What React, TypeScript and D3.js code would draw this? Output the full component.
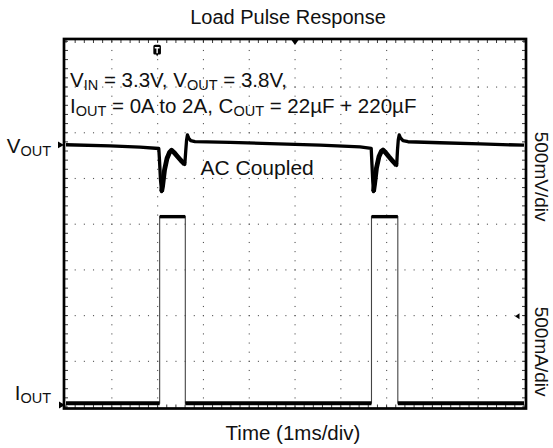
import * as d3 from 'd3'

// VOUT (AC coupled) trace: time in ms, deviation in mV
const vTime = [0, 0.961, 1.616, 2.026, 2.041, 2.063, 2.087, 2.109, 2.151, 2.205, 2.26, 2.306, 2.358, 2.434, 2.511, 2.594, 2.616, 2.633, 2.651, 2.677, 2.721, 2.817, 3.581, 4.454, 5.546, 6.419, 6.664, 6.681, 6.699, 6.714, 6.738, 6.779, 6.834, 6.884, 6.921, 6.976, 7.052, 7.14, 7.22, 7.238, 7.255, 7.275, 7.303, 7.358, 7.467, 8.166, 9.039, 10]
const vOut = [2, -11, -24, -39, -164, -383, -511, -449, -274, -148, -82, -58, -82, -126, -170, -213, -55, 55, 109, 77, 48, 37, 27, 15, -2, -22, -38, -219, -405, -511, -427, -252, -126, -71, -55, -82, -129, -181, -224, -55, 55, 109, 77, 47, 35, 24, 11, -3]
// noisy recovery stretches (drawn thicker)
const vBands = [[2.087, 2.594], [6.714, 7.22]]

// IOUT trace: time in ms, current in A
const iTime = [0, 2.045, 2.045, 2.605, 2.605, 6.67, 6.67, 7.245, 7.245, 10]
const iOut = [0.02, 0.02, 2.06, 2.06, 0.02, 0.02, 2.06, 2.06, 0.02, 0.02]

const xDivs = 10
const yDivs = 8
const msPerDiv = 1
const mVPerDiv = 500
const aPerDiv = 0.5
const vRefDiv = 5.733 // channel marker positions, in divisions from bottom
const iRefDiv = 0.044
const trigTime = 1.99
const trigLevel = 0.97

const FONT = '"Liberation Sans", Arial, Helvetica, sans-serif'

export default function App() {
  const left = 66, right = 524, top = 41.3, bottom = 407
  const x = d3.scaleLinear().domain([0, xDivs * msPerDiv]).range([left, right])
  const yDiv = d3.scaleLinear().domain([0, yDivs]).range([bottom, top])
  const yV = d3.scaleLinear()
    .domain([-vRefDiv * mVPerDiv, (yDivs - vRefDiv) * mVPerDiv])
    .range([bottom, top])
  const yI = d3.scaleLinear()
    .domain([-iRefDiv * aPerDiv, (yDivs - iRefDiv) * aPerDiv])
    .range([bottom, top])

  const vPts = vTime.map((t, i) => [t, vOut[i]] as [number, number])
  const iPts = iTime.map((t, i) => [t, iOut[i]] as [number, number])
  const vLine = d3.line<[number, number]>().x(d => x(d[0])).y(d => yV(d[1]))
  const iLine = d3.line<[number, number]>().x(d => x(d[0])).y(d => yI(d[1]))

  // flat segments of the current pulse (thick), edges stay thin
  const iFlats: [number, number][][] = []
  for (let k = 0; k < iPts.length - 1; k++) {
    if (iPts[k][1] === iPts[k + 1][1]) iFlats.push([iPts[k], iPts[k + 1]])
  }

  // graticule: dotted major lines, minor ticks on the frame
  const minorX = d3.range(0, xDivs * 5 + 1).map(i => left + (right - left) * i / (xDivs * 5))
  const minorY = d3.range(0, yDivs * 5 + 1).map(i => bottom - (bottom - top) * i / (yDivs * 5))
  const dots: [number, number][] = []
  d3.range(1, xDivs).forEach(i => {
    const gx = x(i * msPerDiv)
    minorY.forEach(my => dots.push([gx, my]))
  })
  d3.range(1, yDivs).forEach(j => {
    const gy = yDiv(j)
    minorX.forEach(mx => dots.push([mx, gy]))
  })

  const frame = { x0: 64, x1: 526, y0: 39, y1: 408.5 }
  const sub = 14.5

  return (
    <svg width={553} height={448} style={{ position: 'absolute', left: 0, top: 0, background: '#fff' }}
      fontFamily={FONT}>
      <text x={288} y={24} fontSize={20} textAnchor="middle" fill="#111">Load Pulse Response</text>

      {/* grid dots */}
      {dots.map((d, i) => (
        <rect key={i} x={d[0] - 0.5} y={d[1] - 0.5} width={1.1} height={1.1} fill="#555" />
      ))}

      {/* frame ticks */}
      {minorX.map((mx, i) => (
        <g key={'tx' + i} stroke="#222" strokeWidth={0.9}>
          <line x1={mx} x2={mx} y1={frame.y0} y2={frame.y0 + 4} />
          <line x1={mx} x2={mx} y1={frame.y1} y2={frame.y1 - 4} />
        </g>
      ))}
      {minorY.map((my, i) => (
        <g key={'ty' + i} stroke="#222" strokeWidth={0.9}>
          <line x1={frame.x0} x2={frame.x0 + 4} y1={my} y2={my} />
          <line x1={frame.x1} x2={frame.x1 - 4} y1={my} y2={my} />
        </g>
      ))}
      <rect x={frame.x0} y={frame.y0} width={frame.x1 - frame.x0} height={frame.y1 - frame.y0}
        fill="none" stroke="#000" strokeWidth={2.7} />

      {/* horizontal position marker */}
      <path d={`M${x(5) - 4.3},${frame.y0} L${x(5) + 4.3},${frame.y0} L${x(5)},${frame.y0 + 6} Z`} fill="#000" />

      {/* trigger position marker */}
      <g transform={`translate(${x(trigTime)},50)`}>
        <path d="M-3.8,-3.5 Q-3.8,-5.2 -2.1,-5.2 L2.1,-5.2 Q3.8,-5.2 3.8,-3.5 L3.8,3.2 Q3.8,4.6 2.4,4.6 L1,4.6 L0,6.5 L-1,4.6 L-2.4,4.6 Q-3.8,4.6 -3.8,3.2 Z" fill="#000" />
        <path d="M-2.4,-3 L2.4,-3 L2.4,-1.5 L0.7,-1.5 L0.7,3.2 L-0.7,3.2 L-0.7,-1.5 L-2.4,-1.5 Z" fill="#fff" />
      </g>

      {/* channel markers */}
      <path d={`M${frame.x0 - 6},${yV(0) - 3.4} L${frame.x0},${yV(0)} L${frame.x0 - 6},${yV(0) + 3.4} Z`} fill="#000" />
      <path d={`M${frame.x0 - 5},${yI(0) - 3.6} L${frame.x0 + 1},${yI(0)} L${frame.x0 - 5},${yI(0) + 3.6} Z`} fill="#000" />
      <path d={`M${right - 9},${yI(trigLevel)} L${right - 4.5},${yI(trigLevel) - 3} L${right - 4.5},${yI(trigLevel) + 3} Z`} fill="#000" />

      {/* IOUT trace */}
      <path d={iLine(iPts) ?? ''} fill="none" stroke="#444" strokeWidth={1.1} />
      {iFlats.map((seg, i) => (
        <path key={'if' + i} d={iLine(seg) ?? ''} fill="none" stroke="#000"
          strokeWidth={seg[0][1] < 1 ? 4 : 3.4} />
      ))}

      {/* VOUT trace */}
      <path d={vLine(vPts) ?? ''} fill="none" stroke="#000" strokeWidth={3.3} strokeLinejoin="round" />
      {vBands.map((b, i) => (
        <path key={'vb' + i} d={vLine(vPts.filter(p => p[0] >= b[0] && p[0] <= b[1])) ?? ''}
          fill="none" stroke="#000" strokeWidth={4.8} strokeLinejoin="round" />
      ))}

      {/* annotations */}
      <text x={70} y={86.7} fontSize={20.5} fill="#111" style={{ whiteSpace: 'pre' }}>
        V<tspan fontSize={sub} dy={3}>IN</tspan><tspan dy={-3}> = 3.3V, V</tspan>
        <tspan fontSize={sub} dy={3}>OUT</tspan><tspan dy={-3}> = 3.8V,</tspan>
      </text>
      <text x={70} y={113.3} fontSize={20.5} fill="#111" style={{ whiteSpace: 'pre' }}>
        I<tspan fontSize={sub} dy={3}>OUT</tspan><tspan dy={-3}> = 0A to 2A, C</tspan>
        <tspan fontSize={sub} dy={3}>OUT</tspan><tspan dy={-3}> = 22µF + 220µF</tspan>
      </text>
      <text x={200.5} y={175} fontSize={21} fill="#111">AC Coupled</text>

      <text x={51} y={153.3} fontSize={20.5} textAnchor="end" fill="#111">
        V<tspan fontSize={sub} dy={3}>OUT</tspan>
      </text>
      <text x={51} y={400} fontSize={20.5} textAnchor="end" fill="#111">
        I<tspan fontSize={sub} dy={3}>OUT</tspan>
      </text>

      <text transform="translate(535,131.7) rotate(90)" fontSize={19} fill="#111">500mV/div</text>
      <text transform="translate(535,306.7) rotate(90)" fontSize={19} fill="#111">500mA/div</text>

      <text x={293} y={440} fontSize={20.5} textAnchor="middle" fill="#111">Time (1ms/div)</text>
    </svg>
  )
}
